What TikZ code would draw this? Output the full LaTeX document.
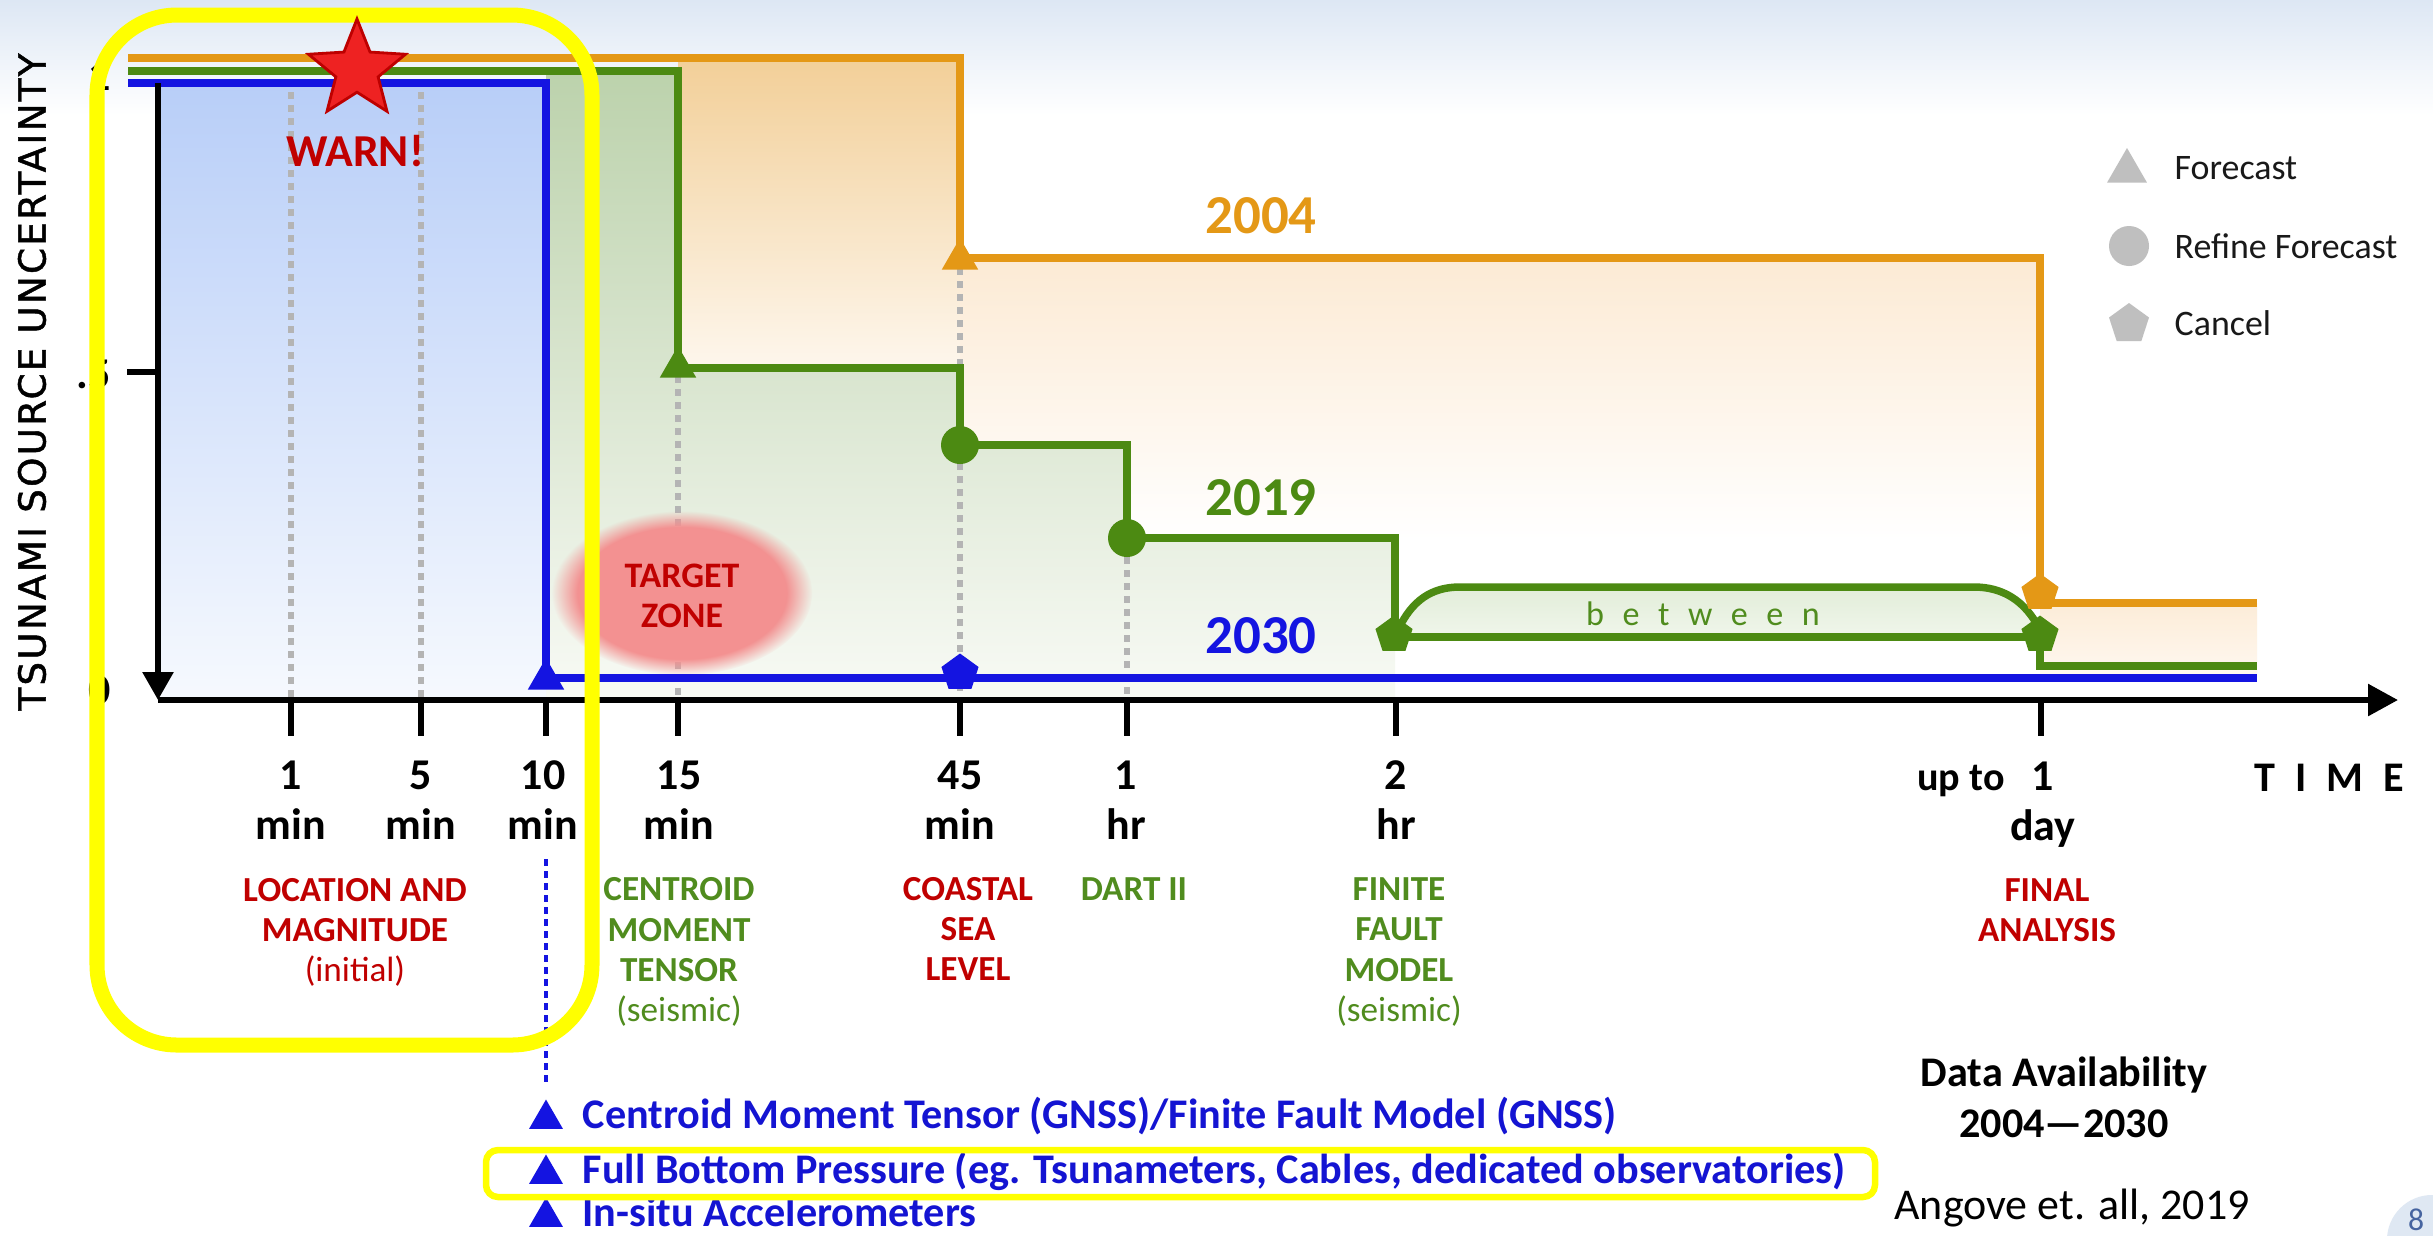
\documentclass[tikz,border=0pt]{standalone}
\usepackage{fontspec}
\setmainfont{Carlito}
\newfontfamily\djv[LetterSpace=6,FakeBold=1.2]{DejaVu Sans}
\usetikzlibrary{shapes.geometric,arrows.meta,fadings}
\definecolor{cOr}{RGB}{228,152,22}
\definecolor{cGr}{RGB}{76,138,18}
\definecolor{cBl}{RGB}{20,20,225}
\definecolor{cRed}{RGB}{192,0,0}
\definecolor{cGt}{RGB}{80,140,30}
\definecolor{cBt}{RGB}{20,20,210}
\definecolor{cGray}{RGB}{180,180,180}
\definecolor{cLeg}{RGB}{191,191,191}
\definecolor{cYel}{RGB}{255,255,0}
\definecolor{topbg}{RGB}{221,231,244}
\definecolor{blT}{RGB}{184,206,248}
\definecolor{blB}{RGB}{246,249,254}
\definecolor{grT}{RGB}{188,210,172}
\definecolor{grB}{RGB}{248,250,245}
\definecolor{arT}{RGB}{226,237,217}
\definecolor{arB}{RGB}{240,246,235}
\definecolor{orAT}{RGB}{242,207,152}
\definecolor{orAB}{RGB}{254,248,240}
\definecolor{orBT}{RGB}{252,234,212}
\definecolor{orCT}{RGB}{252,236,216}
\definecolor{orCB}{RGB}{255,248,240}
\definecolor{tzone}{RGB}{243,145,145}
\definecolor{starRed}{RGB}{238,34,34}
\definecolor{starDark}{RGB}{190,0,0}
\definecolor{pgC}{RGB}{223,232,243}
\definecolor{pgT}{RGB}{70,100,160}
\newcommand{\mygapA}{\hspace{0.185cm}}
\newcommand{\mygapB}{\hspace{0.2cm}}
\begin{document}
\begin{tikzpicture}[x=0.01cm,y=-0.01cm,
  orline/.style={draw=cOr,line width=0.075cm},
  grline/.style={draw=cGr,line width=0.075cm},
  blline/.style={draw=cBl,line width=0.075cm},
  axisline/.style={draw=black,line width=0.058cm},
  gdot/.style={draw=cGray,line width=0.06cm,dash pattern=on 0.065cm off 0.065cm},
  tri/.style={regular polygon,regular polygon sides=3,minimum size=0.42cm,inner sep=0pt,draw=none},
  pent/.style={regular polygon,regular polygon sides=5,minimum size=0.39cm,inner sep=0pt,draw=none},
  dotm/.style={circle,minimum size=0.38cm,inner sep=0pt,draw=none},
  ticklab/.style={font=\bfseries\fontsize{12.5}{14.2}\selectfont,align=center,inner sep=0pt},
  catlab/.style={font=\bfseries\fontsize{10}{11.4}\selectfont,align=center,inner sep=0pt},
  yearlab/.style={font=\bfseries\fontsize{15.6}{18}\selectfont,inner sep=0pt},
  leglab/.style={font=\fontsize{10.2}{12}\selectfont,anchor=west,inner sep=0pt,text=black!90},
  bullab/.style={font=\bfseries\fontsize{12}{14}\selectfont,anchor=west,inner sep=0pt,text=cBt}
]
\useasboundingbox (0,0) rectangle (2433,1235);
\fill[white] (0,0) rectangle (2433,1235);
\shade[top color=topbg,bottom color=white] (0,0) rectangle (2433,115);

% fills
\shade[top color=orAT,bottom color=orAB] (678,58) rectangle (960,380);
\shade[top color=orBT,bottom color=white] (960,258) rectangle (2040,540);
\shade[top color=orCT,bottom color=orCB] (2040,603) rectangle (2257,677);
\shade[top color=grT,bottom color=grB] (546,71) -| (678,368) -| (960,445) -| (1127,538) -| (1395,700) -- (546,700) -- cycle;
\shade[top color=arT,bottom color=arB] (1398,630) .. controls (1412,600) and (1432,587) .. (1460,587) -- (1974,587) .. controls (2002,587) and (2025,600) .. (2040,630) -- (2040,637) -- (1398,637) -- cycle;
\shade[top color=blT,bottom color=blB] (158,83) rectangle (546,700);

% gray guide lines
\draw[gdot] (291,92) -- (291,700);
\draw[gdot] (421,92) -- (421,700);
\draw[gdot] (678,376) -- (678,700);
\draw[gdot] (960,268) -- (960,700);
\draw[gdot] (1127,557) -- (1127,700);

% target zone
\fill[tzone,path fading=circle with fuzzy edge 20 percent] (682,593) ellipse [x radius=1.3cm,y radius=0.82cm];
\node[font=\bfseries\fontsize{10.2}{11.2}\selectfont,text=cRed,align=center,inner sep=0pt] (tz) at (682,596) {TARGET\\ZONE};

% step lines
\draw[orline] (128,58) -- (960,58) -- (960,258) -- (2040,258) -- (2040,603) -- (2257,603);
\draw[grline] (128,71) -| (678,368) -| (960,445) -| (1127,538) -| (1395,637) -- (2040,637) -- (2040,666) -- (2257,666);
\draw[grline] (1398,630) .. controls (1412,600) and (1432,587) .. (1460,587) -- (1974,587) .. controls (2002,587) and (2025,600) .. (2040,630);
\draw[blline] (128,83) -- (546,83) -- (546,678) -- (2257,678);

% axes
\draw[axisline,-{Triangle[width=0.3cm,length=0.28cm]}] (158,83) -- (158,700);
\draw[axisline,-{Triangle[width=0.31cm,length=0.3cm]}] (158,700) -- (2398,700);
\draw[axisline] (127,372) -- (158,372);
\foreach \xx in {291,421,546,678,960,1127,1396,2041} {\draw[axisline] (\xx,700) -- (\xx,736);}

% y tick labels
\node[ticklab,anchor=east] (y1) at (111,76) {1};
\node[ticklab,anchor=east] (y5) at (111,374) {.5};
\node[ticklab,anchor=east] (y0) at (111,690) {0};

% markers
\node[tri,fill=cBl] (mB1) at (546,679) {};
\node[tri,fill=cGr] (mG1) at (678,367) {};
\node[tri,fill=cOr] (mO1) at (960,259) {};
\node[dotm,fill=cGr] (mG2) at (960,445) {};
\node[dotm,fill=cGr] (mG3) at (1127,538) {};
\node[pent,fill=cBl] (mB2) at (960,673) {};
\node[pent,fill=cGr] (mG4) at (1394,635) {};
\node[pent,fill=cGr] (mG5) at (2040,635) {};
\node[pent,fill=cOr] (mO2) at (2040,593) {};

% year labels
\node[yearlab,text=cOr] (t2004) at (1261,216) {2004};
\node[yearlab,text=cGr] (t2019) at (1261,498) {2019};
\node[yearlab,text=cBl] (t2030) at (1261,636) {2030};
\node[font=\fontsize{9.7}{11}\selectfont,text=cGt,inner sep=0pt] (btw) at (1703,614) {b\mygapA e\mygapA t\mygapA w\mygapA e\mygapA e\mygapA n};

% legend
\node[tri,fill=cLeg,minimum size=0.46cm] (lgT) at (2127,171) {};
\node[leglab] (lgTt) at (2174,168) {Forecast};
\node[dotm,fill=cLeg,minimum size=0.4cm] (lgC) at (2129,246) {};
\node[leglab] (lgCt) at (2174,246) {Refine Forecast};
\node[pent,fill=cLeg,minimum size=0.42cm] (lgP) at (2129,324) {};
\node[leglab] (lgPt) at (2174,323) {Cancel};

% x tick labels
\node[ticklab] (x1) at (291,800) {1\\min};
\node[ticklab] (x5) at (421,800) {5\\min};
\node[ticklab] (x10) at (543,800) {10\\min};
\node[ticklab] (x15) at (679,800) {15\\min};
\node[ticklab] (x45) at (960,800) {45\\min};
\node[ticklab] (x1h) at (1126,800) {1\\hr};
\node[ticklab] (x2h) at (1396,800) {2\\hr};
\node[ticklab] (x1d) at (2043,805) {1\\day};
\node[font=\bfseries\fontsize{11.4}{13}\selectfont,inner sep=0pt] (upto) at (1961,781) {up to};
\node[font=\bfseries\fontsize{12}{14}\selectfont,inner sep=0pt] (time) at (2329,778) {T\mygapB I\mygapB M\mygapB E};

% category labels
\node[catlab,text=cRed] (cLoc) at (355,932) {LOCATION AND\\MAGNITUDE\\\normalfont(initial)};
\node[catlab,text=cGt] (cCmt) at (679,952) {CENTROID\\MOMENT\\TENSOR\\\normalfont(seismic)};
\node[catlab,text=cRed] (cCsl) at (968,929) {COASTAL\\SEA\\LEVEL};
\node[catlab,text=cGt] (cDart) at (1134,889) {DART II};
\node[catlab,text=cGt] (cFfm) at (1399,952) {FINITE\\FAULT\\MODEL\\\normalfont(seismic)};
\node[catlab,text=cRed] (cFin) at (2047,910) {FINAL\\ANALYSIS};

% data availability bullets
\draw[draw=cBl,line width=0.045cm,dash pattern=on 0.07cm off 0.05cm] (546,859) -- (546,1082);
\node[tri,fill=cBl,minimum size=0.39cm] (bt1) at (546,1119) {};
\node[tri,fill=cBl,minimum size=0.39cm] (bt2) at (546,1174) {};
\node[tri,fill=cBl,minimum size=0.39cm] (bt3) at (546,1217) {};
\node[bullab] (bl1) at (582,1116) {Centroid Moment Tensor (GNSS)/Finite Fault Model (GNSS)};
\node[bullab] (bl2) at (582,1171) {Full Bottom Pressure (eg. Tsunameters, Cables, dedicated observatories)};
\node[bullab] (bl3) at (582,1212) {In-situ Accelerometers};

\node[font=\bfseries\fontsize{12}{14.5}\selectfont,align=center,inner sep=0pt] (dav) at (2064,1097) {Data Availability\\2004—2030};
\node[font=\fontsize{12.5}{14}\selectfont,inner sep=0pt] (ang) at (2072,1208) {Angove et. all, 2019};

% y label
\node[rotate=90,font=\djv\fontsize{10.6}{12}\selectfont,inner sep=0pt] (ylab) at (32,382) {TSUNAMI SOURCE UNCERTAINTY};

% yellow highlights
\draw[draw=cYel,line width=0.15cm,rounded corners=0.8cm] (97,15) rectangle (592,1045);
\draw[draw=cYel,line width=0.065cm,rounded corners=0.12cm] (486,1150) rectangle (1875,1197);

% star and warning
\node[star,star points=5,star point ratio=2.3,minimum size=1.02cm,inner sep=0pt,fill=starRed,draw=starDark,line width=0.8pt] (star) at (357,70) {};
\node[font=\bfseries\fontsize{13}{15}\selectfont,text=cRed,inner sep=0pt] (warn) at (355,151) {WARN!};

% page number
\fill[pgC] (2432,1240) circle[radius=0.45cm];
\node[font=\fontsize{9}{10}\selectfont,text=pgT,inner sep=0pt] (pg) at (2416,1220) {8};
\end{tikzpicture}
\end{document}
